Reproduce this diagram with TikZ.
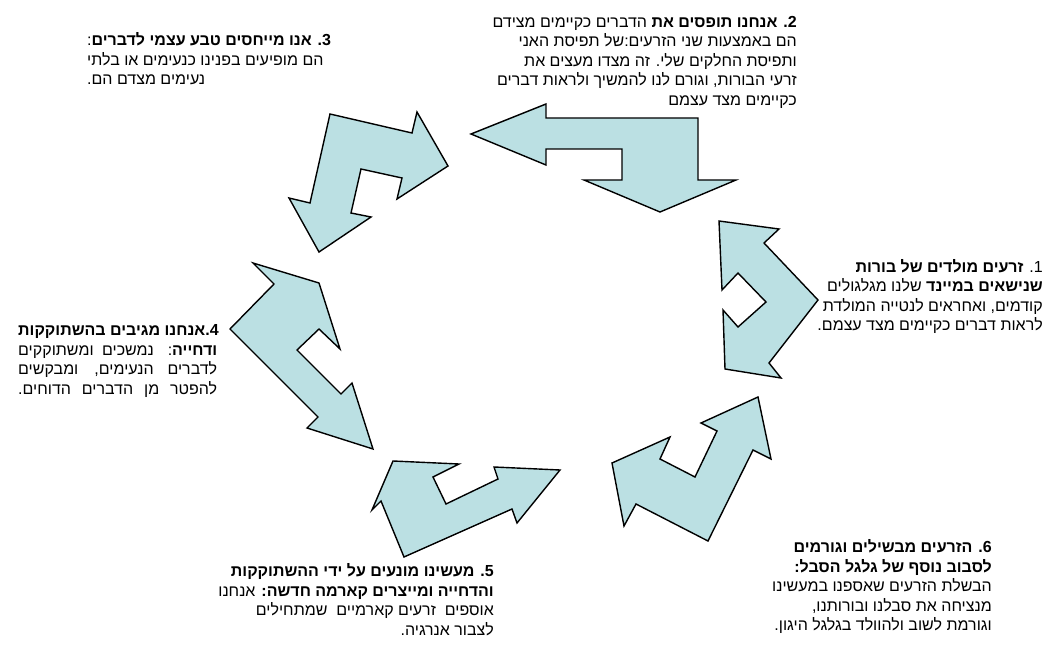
\documentclass[tikz,border=0pt]{standalone}
\usepackage{fontspec}
\newfontfamily\heb[Script=Hebrew]{Liberation Sans}
\TeXXeTstate=1
\definecolor{arrowfill}{RGB}{187,224,227}
\tikzset{
  cyclearrow/.style={fill=arrowfill, draw=black, line width=1.4pt, line join=miter},
  heb/.style={font=\heb\fontsize{16}{19}\selectfont, inner sep=0pt, text=black},
}
\begin{document}
\begin{tikzpicture}[x=1pt,y=-1pt]
\useasboundingbox (0,0) rectangle (1050,650);
% arrows
\draw[cyclearrow] (471,134) -- (546,104) -- (546,118) -- (698,118) -- (698,180) -- (736,180) -- (660,212) -- (584,180) -- (622,180) -- (622,149) -- (546,149) -- (546,165) -- cycle;
\draw[cyclearrow] (330,114) -- (412,133) -- (417,112) -- (448,166) -- (397,199) -- (402,178) -- (361,169) -- (351,213) -- (371,217) -- (319,252) -- (289,198) -- (310,203) -- cycle;
\draw[cyclearrow] (253,263) -- (319,283) -- (340,349) -- (319,329) -- (297,350) -- (341,394) -- (352,383) -- (373,449) -- (307,428) -- (318,417) -- (230,329) -- (274,284) -- cycle;
\draw[cyclearrow] (393,461) -- (459,464) -- (433,477) -- (446,504) -- (498,479) -- (494,467) -- (560,470) -- (517,523) -- (512,509) -- (404,557) -- (381,501) -- (372,510) -- cycle;
\draw[cyclearrow] (612,463) -- (670,437) -- (660,459) -- (695,477) -- (717,431) -- (701,423) -- (758,397) -- (771,459) -- (753,450) -- (708,541) -- (636,504) -- (624,526) -- cycle;
\draw[cyclearrow] (719,221) -- (779,229) -- (764,243) -- (818,300) -- (769,363) -- (781,378) -- (725,369) -- (723,310) -- (738,327) -- (766,302) -- (738,273) -- (722,290) -- cycle;
% block 1
\node[heb, anchor=base east] (t1a) at (1043,272) {\beginR 1. \textbf{זרעים מולדים של בורות}\endR};
\node[heb, anchor=base east] (t1b) at (1043,291.5) {\beginR\textbf{שנישאים במיינד} שלנו מגלגולים\endR};
\node[heb, anchor=base east] (t1c) at (1043,311) {\beginR קודמים, ואחראים לנטייה המולדת\endR};
\node[heb, anchor=base east] (t1d) at (1043,330.5) {\beginR לראות דברים כקיימים מצד עצמם.\endR};
% block 2
\node[heb, anchor=base east] (t2a) at (797,27.5) {\beginR\textbf{2. אנחנו תופסים את} הדברים כקיימים מצידם\endR};
\node[heb, anchor=base east] (t2b) at (797,47) {\beginR הם באמצעות שני הזרעים:של תפיסת האני\endR};
\node[heb, anchor=base east] (t2c) at (797,66.5) {\beginR ותפיסת החלקים שלי. זה מצדו מעצים את\endR};
\node[heb, anchor=base east] (t2d) at (797,86) {\beginR זרעי הבורות, וגורם לנו להמשיך ולראות דברים\endR};
\node[heb, anchor=base east] (t2e) at (797,105.5) {\beginR כקיימים מצד עצמם\endR};
% block 3
\node[heb, anchor=base west] (t3a) at (87,46) {\beginR\textbf{3. אנו מייחסים טבע עצמי לדברים}:\endR};
\node[heb, anchor=base west] (t3b) at (87,65.5) {\beginR הם מופיעים בפנינו כנעימים או בלתי\endR};
\node[heb, anchor=base west] (t3c) at (87,85) {\beginR נעימים מצדם הם.\endR};
% block 4
\node[heb, anchor=base west] (t4a) at (18,335.5) {\beginR\textbf{4.אנחנו מגיבים בהשתוקקות}\endR};
\node[heb, anchor=base west] (t4b) at (18,355) {\hbox to 199pt{\beginR\textbf{ודחייה}: נמשכים ומשתוקקים\endR}};
\node[heb, anchor=base west] (t4c) at (18,374.5) {\hbox to 199pt{\beginR לדברים הנעימים, ומבקשים\endR}};
\node[heb, anchor=base west] (t4d) at (18,394) {\hbox to 199pt{\beginR להפטר מן הדברים הדוחים.\endR}};
% block 5
\node[heb, anchor=base east] (t5a) at (494,576.5) {\beginR\textbf{5. מעשינו מונעים על ידי ההשתוקקות}\endR};
\node[heb, anchor=base east] (t5b) at (494,596) {\beginR\textbf{והדחייה ומייצרים קארמה חדשה:} אנחנו\endR};
\node[heb, anchor=base east] (t5c) at (494,615.5) {\beginR אוספים\ \ זרעים קארמיים\ \ שמתחילים\endR};
\node[heb, anchor=base east] (t5d) at (494,635) {\beginR לצבור אנרגיה.\endR};
% block 6
\node[heb, anchor=base east] (t6a) at (992,552.5) {\beginR\textbf{6. הזרעים מבשילים וגורמים}\endR};
\node[heb, anchor=base east] (t6b) at (992,572) {\beginR\textbf{לסבוב נוסף של גלגל הסבל:}\endR};
\node[heb, anchor=base east] (t6c) at (992,591.5) {\beginR הבשלת הזרעים שאספנו במעשינו\endR};
\node[heb, anchor=base east] (t6d) at (992,611) {\beginR מנציחה את סבלנו ובורותנו,\endR};
\node[heb, anchor=base east] (t6e) at (992,630.5) {\beginR וגורמת לשוב ולהוולד בגלגל היגון.\endR};
\end{tikzpicture}
\end{document}
